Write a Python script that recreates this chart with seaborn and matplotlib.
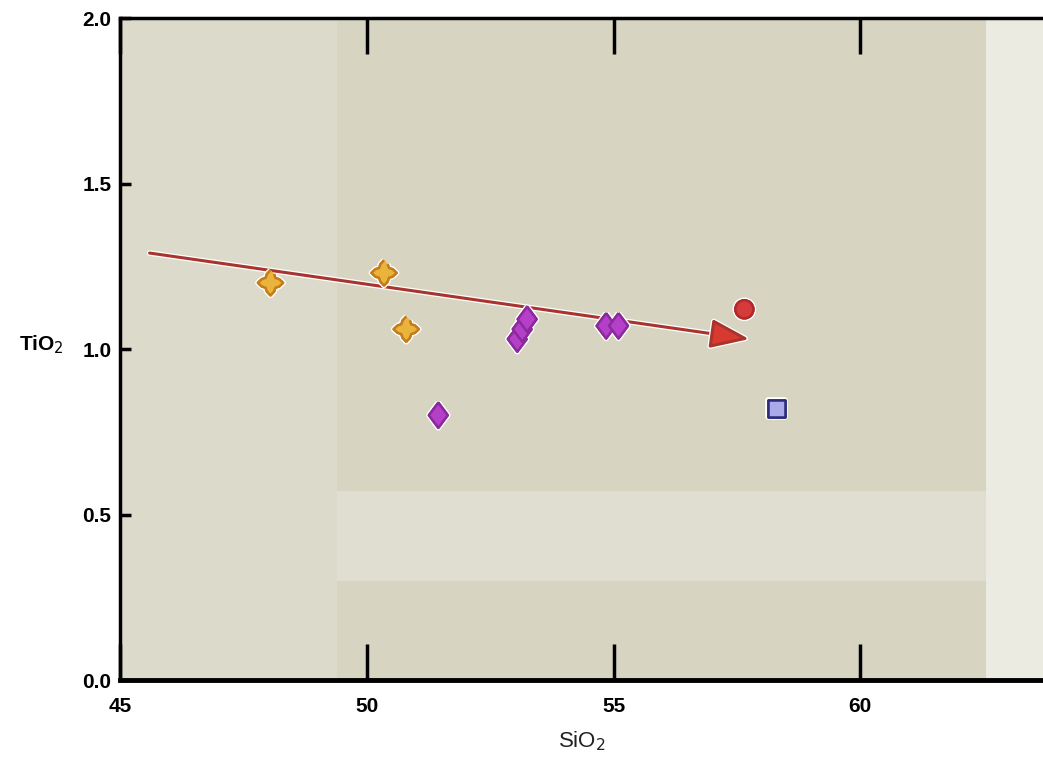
import matplotlib
matplotlib.use("Agg")
import matplotlib.pyplot as plt
import matplotlib.patheffects as pe
from matplotlib.path import Path
import seaborn as sns
import pandas as pd
import numpy as np

# Data
sio2_cross = [48.05, 50.35, 50.8]
tio2_cross = [1.20, 1.23, 1.06]

sio2_diamond = [51.45, 53.05, 53.15, 53.25, 54.85, 55.1]
tio2_diamond = [0.80, 1.03, 1.06, 1.09, 1.07, 1.07]

sio2_circle = [57.65]
tio2_circle = [1.12]

sio2_square = [58.3]
tio2_square = [0.82]

trend_start = (45.6, 1.29)
trend_end = (57.75, 1.03)

x_ticks = [45, 50, 55, 60]
y_ticks = [0.0, 0.5, 1.0, 1.5, 2.0]

groups = ["cross"] * len(sio2_cross) + ["diamond"] * len(sio2_diamond) \
    + ["circle"] * len(sio2_circle) + ["square"] * len(sio2_square)
df = pd.DataFrame({
    "SiO2": sio2_cross + sio2_diamond + sio2_circle + sio2_square,
    "TiO2": tio2_cross + tio2_diamond + tio2_circle + tio2_square,
    "group": groups,
})

# fat four-pointed star for the yellow samples
ang = np.linspace(0, 2 * np.pi, 17)[:-1]
rad = np.array([1.0, 0.75, 0.55, 0.75] * 4)
star = Path(np.column_stack([rad * np.cos(ang + np.pi / 2), rad * np.sin(ang + np.pi / 2)]))
# tall diamond
tall_diamond = Path([(0, 1), (0.75, 0), (0, -1), (-0.75, 0), (0, 1)])

sns.set_style("white")
plt.rcParams["font.family"] = ["Liberation Sans", "DejaVu Sans"]

fig = plt.figure(figsize=(10.43, 7.67), dpi=100)
ax = fig.add_axes([0.115, 0.1134, 0.885, 0.8631])
ax.set_facecolor("#d7d4c1")

# lighter scan patches of the background
ax.axvspan(45, 49.4, color="#dcdacb", zorder=0, lw=0)
ax.axvspan(62.55, 64, color="#ecebe1", zorder=0, lw=0)
ax.axhspan(0.3, 0.57, xmin=(49.4 - 45) / 18.7, xmax=(62.55 - 45) / 18.7,
           color="#e0ded1", zorder=0, lw=0)

style = {
    "cross": dict(marker=star, color="#eab43c", edge="#c47d1c", s=330),
    "diamond": dict(marker=tall_diamond, color="#b63fca", edge="#8b2a9b", s=330),
    "circle": dict(marker="o", color="#d63b3b", edge="#b02a2a", s=170),
    "square": dict(marker="s", color="#aaaaea", edge="#2b2b78", s=150),
}
for g, st in style.items():
    sub = df[df["group"] == g]
    sns.scatterplot(data=sub, x="SiO2", y="TiO2", marker=st["marker"], s=st["s"],
                    color=st["color"], edgecolor=st["edge"], linewidth=1.8,
                    ax=ax, zorder=4, legend=False)
for coll in ax.collections:
    coll.set_path_effects([pe.withStroke(linewidth=4, foreground="white"), pe.Normal()])

# trend arrow: dark red shaft, brighter head
ax.annotate("", xy=trend_end, xytext=trend_start,
            arrowprops=dict(arrowstyle="-|>,head_length=2.4,head_width=0.9",
                            facecolor="#d93a30", edgecolor="#a8342e", lw=2.2,
                            shrinkA=0, shrinkB=0,
                            path_effects=[pe.withStroke(linewidth=4, foreground="white")]),
            zorder=3)

ax.set_xlim(45, 63.7)
ax.set_ylim(0, 2.0)
ax.set_xticks(x_ticks)
ax.set_yticks(y_ticks)
ax.set_yticklabels([f"{v:.1f}" for v in y_ticks])
ax.tick_params(axis="x", direction="in", bottom=True, top=True, length=26, width=2.5,
               colors="black", labelsize=15, pad=12)
ax.tick_params(axis="y", direction="in", left=True, length=8, width=2.5,
               colors="black", labelsize=15, pad=6)
for lab in ax.get_xticklabels() + ax.get_yticklabels():
    lab.set_fontweight("bold")

for side in ["left", "bottom", "top"]:
    ax.spines[side].set_visible(True)
    ax.spines[side].set_color("black")
    ax.spines[side].set_linewidth(2.5)
ax.spines["bottom"].set_linewidth(3.5)
ax.spines["right"].set_visible(False)

ax.set_xlabel("SiO$_2$", fontsize=16, color="#222222", labelpad=10)
ax.set_ylabel("TiO$_2$", fontsize=15, fontweight="bold", color="black", rotation=0)
ax.yaxis.set_label_coords(-0.085, 0.49)

fig.savefig("out.png", dpi=100)
